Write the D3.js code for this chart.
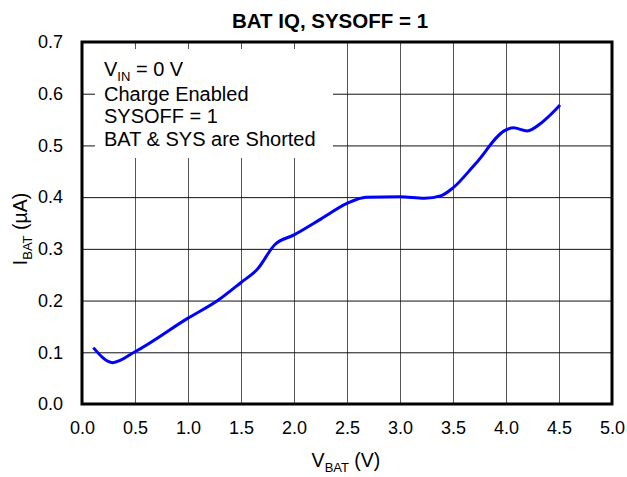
<!DOCTYPE html>
<html>
<head>
<meta charset="utf-8">
<script src="https://cdn.jsdelivr.net/npm/d3@7"></script>
<style>
  body { margin: 0; background: #fff; }
  svg { font-family: "Liberation Sans", Arial, sans-serif; }
</style>
</head>
<body>
<svg id="chart" width="627" height="477"></svg>
<script>
// values
const vbat = [0.107, 0.29, 0.5, 1.0, 1.28, 1.5, 1.656, 1.818, 2.0, 2.256, 2.5, 2.68, 3.0, 3.23, 3.39, 3.5, 3.71, 4.0, 4.07, 4.2, 4.33, 4.51];
const ibat = [0.109, 0.080, 0.101, 0.166, 0.200, 0.235, 0.261, 0.308, 0.327, 0.358, 0.388, 0.400, 0.401, 0.398, 0.403, 0.418, 0.464, 0.530, 0.534, 0.528, 0.543, 0.578];
const xTicks = [0, 0.5, 1, 1.5, 2, 2.5, 3, 3.5, 4, 4.5, 5];
const yTicks = [0, 0.1, 0.2, 0.3, 0.4, 0.5, 0.6, 0.7];
const notes = ["Charge Enabled", "SYSOFF = 1", "BAT & SYS are Shorted"];

const svg = d3.select("#chart");
const mLeft = 82, mRight = 612, mTop = 42, mBottom = 404;

const x = d3.scaleLinear().domain([0, 5]).range([mLeft, mRight]);
const y = d3.scaleLinear().domain([0, 0.7]).range([mBottom, mTop]);

// vertical grid
svg.append("g")
  .attr("transform", `translate(0,${mBottom})`)
  .call(d3.axisBottom(x).tickValues(xTicks).tickSize(-(mBottom - mTop)).tickFormat(d3.format(".1f")).tickPadding(17))
  .call(g => g.select(".domain").remove())
  .call(g => g.selectAll("line").attr("stroke", "#555").attr("stroke-width", 1))
  .call(g => g.selectAll("text").attr("font-size", 18).attr("fill", "#000").attr("font-family", "Liberation Sans, Arial, sans-serif"));

// horizontal grid
svg.append("g")
  .attr("transform", `translate(${mLeft},0)`)
  .call(d3.axisLeft(y).tickValues(yTicks).tickSize(-(mRight - mLeft)).tickFormat(d3.format(".1f")).tickPadding(19))
  .call(g => g.select(".domain").remove())
  .call(g => g.selectAll("line").attr("stroke", "#111").attr("stroke-width", 1))
  .call(g => g.selectAll("text").attr("font-size", 18).attr("fill", "#000").attr("font-family", "Liberation Sans, Arial, sans-serif"));

// annotation box covers the grid
svg.append("rect")
  .attr("x", 95).attr("y", 49).attr("width", 238).attr("height", 109)
  .attr("fill", "#fff");

const note = svg.append("g").attr("font-size", 20).attr("fill", "#000");
const first = note.append("text").attr("x", 104).attr("y", 76);
first.append("tspan").text("V");
first.append("tspan").text("IN").attr("font-size", 13).attr("dy", 5);
first.append("tspan").text(" = 0 V").attr("dy", -5);
note.selectAll(".ln").data(notes).enter().append("text")
  .attr("x", 104)
  .attr("y", (d, i) => 100.5 + i * 22.7)
  .text(d => d);

// curve
const line = d3.line()
  .x((d, i) => x(vbat[i]))
  .y((d, i) => y(ibat[i]))
  .curve(d3.curveMonotoneX);

svg.append("path")
  .datum(vbat)
  .attr("d", line)
  .attr("fill", "none")
  .attr("stroke", "#0000ff")
  .attr("stroke-width", 3);

// border
svg.append("rect")
  .attr("x", mLeft).attr("y", mTop)
  .attr("width", mRight - mLeft).attr("height", mBottom - mTop)
  .attr("fill", "none").attr("stroke", "#000").attr("stroke-width", 3);

// title
svg.append("text")
  .attr("x", 330).attr("y", 28)
  .attr("text-anchor", "middle")
  .attr("font-size", 20.5).attr("font-weight", "bold")
  .text("BAT IQ, SYSOFF = 1");

// x label
const xl = svg.append("text").attr("x", 346).attr("y", 467).attr("text-anchor", "middle").attr("font-size", 19.5);
xl.append("tspan").text("V");
xl.append("tspan").text("BAT").attr("font-size", 13).attr("dy", 5);
xl.append("tspan").text(" (V)").attr("dy", -5);

// y label
const yl = svg.append("text")
  .attr("transform", "translate(27,229) rotate(-90)")
  .attr("text-anchor", "middle").attr("font-size", 19.5);
yl.append("tspan").text("I");
yl.append("tspan").text("BAT").attr("font-size", 13).attr("dy", 5);
yl.append("tspan").text(" (µA)").attr("dy", -5);
</script>
</body>
</html>
